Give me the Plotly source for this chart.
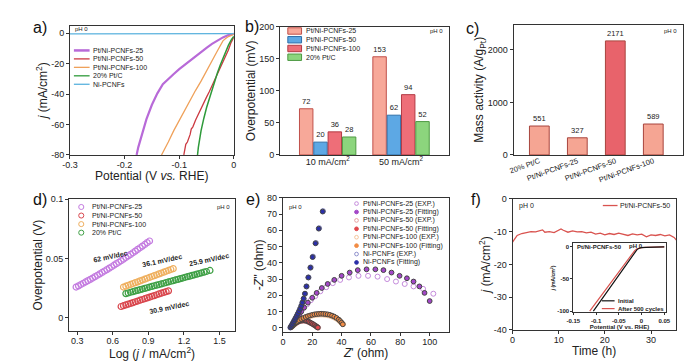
import plotly.graph_objects as go

W, H = 695, 362
def X(px): return px / W
def Y(py): return 1 - py / H

# ---------------- data ----------------
# (a) LSV curves
a_names = ["Pt/Ni-PCNFs-25", "Pt/Ni-PCNFs-50", "Pt/Ni-PCNFs-100", "20% Pt/C", "Ni-PCNFs"]
a25_v = [0, -0.01, -0.02, -0.03, -0.04, -0.05, -0.06, -0.07, -0.08, -0.09, -0.10, -0.11, -0.12, -0.13, -0.14, -0.15, -0.16, -0.17, -0.175, -0.178]
a25_j = [-0.3, -1.2, -2.7, -4.6, -7.0, -9.6, -12.3, -15.0, -17.8, -20.6, -23.6, -26.8, -30.0, -33.5, -39.5, -47.0, -56.5, -68.0, -75.0, -80.0]
a50_v = [0, -0.005, -0.01, -0.015, -0.02, -0.025, -0.03, -0.035, -0.04, -0.045, -0.05, -0.055, -0.06, -0.065, -0.07, -0.075, -0.078, -0.08, -0.085, -0.088, -0.09, -0.0916]
a50_j = [-2.5, -6.0, -11.0, -15.0, -19.5, -23.5, -27.5, -31.0, -35.0, -38.5, -42.0, -45.5, -49.0, -52.5, -57.0, -61.5, -63.0, -66.5, -71.5, -73.0, -77.0, -80.0]
a100_v = [0, -0.005, -0.01, -0.015, -0.02, -0.03, -0.04, -0.05, -0.06, -0.07, -0.08, -0.09, -0.10, -0.11, -0.12, -0.1324]
a100_j = [-0.8, -1.3, -2.2, -3.5, -5.0, -11.5, -18.5, -25.0, -31.5, -37.5, -44.0, -50.5, -57.0, -64.0, -71.5, -80.0]
aptc_v = [0, -0.005, -0.01, -0.015, -0.02, -0.025, -0.03, -0.035, -0.04, -0.045, -0.05, -0.055, -0.06, -0.065, -0.0665]
aptc_j = [-2.0, -4.5, -8.0, -12.0, -16.5, -21.0, -26.0, -31.5, -37.0, -43.0, -49.0, -56.0, -64.0, -75.0, -80.0]
ani_v = [-0.3, -0.15, 0]
ani_j = [-0.4, -0.4, -0.3]
a_xticks = [-0.3, -0.2, -0.1, 0]
a_xtext = ["-0.3", "-0.2", "-0.1", "0"]
a_yticks = [0, -20, -40, -60, -80]
a_ytext = ["0", "-20", "-40", "-60", "-80"]

# (b) overpotential bars
b_cats = ["10 mA/cm<sup>2</sup>", "50 mA/cm<sup>2</sup>"]
b_names = ["Pt/Ni-PCNFs-25", "Pt/Ni-PCNFs-50", "Pt/Ni-PCNFs-100", "20% Pt/C"]
b_vals = [[72, 153], [20, 62], [36, 94], [28, 52]]

# (c) mass activity
c_cats = ["20% Pt/C", "Pt/Ni-PCNFs-25", "Pt/Ni-PCNFs-50", "Pt/Ni-PCNFs-100"]
c_vals = [551, 327, 2171, 589]

# (d) Tafel
d_names = ["Pt/Ni-PCNFs-25", "Pt/Ni-PCNFs-50", "Pt/Ni-PCNFs-100", "20% Pt/C"]
d25_x = [0.29, 0.31, 0.33, 0.35, 0.37, 0.39, 0.41, 0.43, 0.45, 0.47, 0.49, 0.51, 0.53, 0.55, 0.57, 0.59, 0.61, 0.63, 0.65, 0.67, 0.69, 0.71, 0.73, 0.75, 0.77, 0.79, 0.81, 0.83, 0.85, 0.87, 0.89, 0.91]
d25_y = [0.0260, 0.0270, 0.0281, 0.0292, 0.0303, 0.0314, 0.0325, 0.0336, 0.0348, 0.0359, 0.0371, 0.0383, 0.0395, 0.0407, 0.0419, 0.0431, 0.0444, 0.0457, 0.0469, 0.0482, 0.0495, 0.0509, 0.0522, 0.0535, 0.0549, 0.0563, 0.0577, 0.0591, 0.0605, 0.0619, 0.0634, 0.0648]
d50_x = [0.67, 0.69, 0.71, 0.73, 0.75, 0.77, 0.79, 0.81, 0.83, 0.85, 0.87, 0.89, 0.91, 0.93, 0.95, 0.97, 0.99, 1.01, 1.03, 1.05, 1.07]
d50_y = [0.0096, 0.0103, 0.0109, 0.0116, 0.0122, 0.0129, 0.0136, 0.0142, 0.0149, 0.0155, 0.0162, 0.0169, 0.0175, 0.0182, 0.0188, 0.0195, 0.0202, 0.0208, 0.0215, 0.0221, 0.0228]
d100_x = [0.69, 0.71, 0.73, 0.75, 0.77, 0.79, 0.81, 0.83, 0.85, 0.87, 0.89, 0.91, 0.93, 0.95, 0.97, 0.99, 1.01, 1.03, 1.05, 1.07, 1.09, 1.11]
d100_y = [0.0260, 0.0267, 0.0275, 0.0282, 0.0290, 0.0297, 0.0304, 0.0312, 0.0319, 0.0326, 0.0334, 0.0341, 0.0349, 0.0356, 0.0363, 0.0371, 0.0378, 0.0385, 0.0393, 0.0400, 0.0408, 0.0415]
dptc_x = [0.71, 0.73, 0.75, 0.77, 0.79, 0.81, 0.83, 0.85, 0.87, 0.89, 0.91, 0.93, 0.95, 0.97, 0.99, 1.01, 1.03, 1.05, 1.07, 1.09, 1.11, 1.13, 1.15, 1.17, 1.19, 1.21, 1.23, 1.25, 1.27, 1.29, 1.31, 1.33, 1.35, 1.37, 1.39, 1.42]
dptc_y = [0.0205, 0.0210, 0.0216, 0.0221, 0.0227, 0.0232, 0.0238, 0.0243, 0.0249, 0.0254, 0.0260, 0.0265, 0.0271, 0.0276, 0.0281, 0.0287, 0.0292, 0.0298, 0.0303, 0.0309, 0.0314, 0.0320, 0.0325, 0.0331, 0.0336, 0.0342, 0.0347, 0.0352, 0.0358, 0.0363, 0.0369, 0.0374, 0.0380, 0.0385, 0.0391, 0.0400]
d_slopes = ["62 mV/dec", "36.1 mV/dec", "25.9 mV/dec", "30.9 mV/dec"]

# (e) Nyquist
e_names = ["Pt/Ni-PCNFs-25 (EXP.)", "Pt/Ni-PCNFs-25 (Fitting)", "Pt/Ni-PCNFs-50 (EXP.)", "Pt/Ni-PCNFs-50 (Fitting)",
           "Pt/Ni-PCNFs-100 (EXP.)", "Pt/Ni-PCNFs-100 (Fitting)", "Ni-PCNFs (EXP.)", "Ni-PCNFs (Fitting)"]
e25e_x = [6, 7, 8, 9, 10.5, 12, 14, 16.5, 19, 22, 25.5, 29.5, 34, 39, 45, 51.5, 58, 64.5, 71, 77, 83, 89, 95.5, 102.5]
e25e_y = [1, 2.5, 4, 5.5, 7.5, 9.5, 12, 14.5, 17, 19.5, 22.5, 25, 27.5, 29.5, 31, 32, 32, 31.5, 30, 28.5, 27, 25.5, 24, 21]
e25f_x = [6.5, 7.5, 8.5, 9.5, 11, 12.5, 14.5, 17, 20, 23, 26.5, 30.5, 35, 40, 45.5, 51, 57, 63, 68.5, 74, 79.5, 84.5, 89, 93, 96.5, 100]
e25f_y = [1.5, 3, 4.5, 6, 8, 10, 12.5, 15.5, 18.5, 21.5, 24.5, 27, 29.5, 32, 34, 35.5, 36, 36, 35.5, 34, 32, 30.5, 28.5, 25.5, 21.5, 16.5]
e50e_x = [5.5, 6.5, 7.5, 8.5, 9.5, 10.5, 11.5, 12.5, 13.5, 14.5, 15.5, 16.5, 17.5, 18.5, 19.5, 20.5, 21.5, 22.5, 23.3, 24.0]
e50e_y = [0.4, 1.1, 1.9, 2.6, 3.2, 3.7, 4.1, 4.3, 4.4, 4.4, 4.3, 4.0, 3.7, 3.2, 2.7, 2.2, 1.6, 1.0, 0.5, 0.1]
e50f_x = [5.5, 6.5, 7.5, 8.5, 9.5, 10.5, 11.5, 12.5, 13.5, 14.5, 15.5, 16.5, 17.5, 18.5, 19.5, 20.5, 21.5, 22.5, 23.2, 23.8]
e50f_y = [0.5, 1.3, 2.1, 2.8, 3.4, 3.9, 4.3, 4.5, 4.6, 4.6, 4.5, 4.2, 3.8, 3.3, 2.8, 2.3, 1.7, 1.1, 0.6, 0.2]
e100e_x = [6, 7, 8, 9, 10, 11, 12.5, 14, 15.5, 17, 18.5, 20, 21.5, 23, 24.5, 26, 27.5, 29, 30.5, 32, 33.5, 35, 36.5, 38, 39, 40, 41]
e100e_y = [0.7, 1.6, 2.5, 3.3, 4.0, 4.6, 5.3, 5.9, 6.4, 6.9, 7.3, 7.6, 7.9, 8.1, 8.2, 8.2, 8.2, 8.0, 7.8, 7.5, 7.0, 6.4, 5.7, 4.8, 3.9, 3.0, 2.3]
e100f_x = [6, 7, 8, 9, 10, 11, 12.5, 14, 15.5, 17, 18.5, 20, 21.5, 23, 24.5, 26, 27.5, 29, 30.5, 32, 33.5, 35, 36.5, 38, 39, 40, 40.8]
e100f_y = [0.8, 1.8, 2.7, 3.5, 4.2, 4.8, 5.5, 6.1, 6.7, 7.2, 7.6, 8.0, 8.3, 8.5, 8.6, 8.7, 8.6, 8.5, 8.3, 8.0, 7.5, 6.9, 6.1, 5.1, 4.2, 3.2, 2.2]
eNie_x = [5.0, 5.6, 6.2, 6.8, 7.4, 8.0, 8.7, 9.4, 10.1, 10.9, 11.7, 12.5, 13.3, 14.2, 15.1, 16.2, 17.5, 19.0, 20.5, 22.5, 24.7, 27.3]
eNie_y = [0.2, 1.1, 2.0, 3.0, 4.0, 5.0, 6.1, 7.3, 8.6, 10.1, 11.7, 13.5, 15.5, 17.8, 21.0, 25.4, 31.0, 37.2, 43.8, 52.2, 61.3, 71.8]
eNif_x = [5.2, 5.8, 6.4, 7.0, 7.6, 8.2, 8.8, 9.5, 10.2, 11.0, 11.8, 12.6, 13.3, 14.1, 15.0, 16.0, 17.3, 18.7, 20.2, 22.2, 24.4, 27.1]
eNif_y = [0.3, 1.2, 2.1, 3.1, 4.1, 5.1, 6.2, 7.4, 8.7, 10.2, 11.8, 13.6, 15.6, 18.0, 21.0, 25.5, 31.0, 37.0, 43.5, 52.0, 61.0, 71.5]

# (f) stability
f_name = "Pt/Ni-PCNFs-50"
f_t = [0, 0.5, 1, 2, 3, 4, 5, 6, 6.5, 7, 8, 9, 10, 10.5, 11, 12, 13, 14, 15, 16, 17, 18, 19, 20, 21, 22, 23, 24, 25, 26, 27, 28, 29, 30, 31, 32, 33, 34, 35, 35.5]
f_j = [-13.2, -12.0, -11.2, -10.6, -10.3, -10.0, -10.1, -9.8, -9.5, -10.2, -10.0, -10.3, -9.5, -9.2, -9.6, -10.2, -9.8, -10.1, -10.0, -10.4, -10.2, -10.8, -10.5, -11.0, -10.6, -10.9, -10.5, -10.8, -11.2, -10.7, -11.0, -10.8, -11.6, -11.0, -11.2, -10.9, -11.3, -11.0, -11.8, -12.6]
f_yticks = [0, -10, -20, -30, -40]
f_ytext = ["0", "-10", "-20", "-30", "-40"]
# (f) inset
fi_names = ["Initial", "After 500 cycles"]
fi0_v = [-0.106, -0.103, -0.1, -0.095, -0.09, -0.08, -0.07, -0.06, -0.05, -0.04, -0.03, -0.02, -0.015, -0.01, -0.005, 0, 0.01, 0.02, 0.03, 0.04, 0.05]
fi0_j = [-100, -97, -94, -88, -84, -73.5, -63, -53, -43, -33, -22.5, -12.5, -8, -4.5, -2.5, -1.5, -1.0, -0.8, -0.6, -0.5, -0.4]
fi1_v = [-0.114, -0.105, -0.095, -0.085, -0.075, -0.065, -0.055, -0.045, -0.035, -0.025, -0.02, -0.015, -0.01, -0.005, 0, 0.01, 0.02, 0.03, 0.04, 0.05]
fi1_j = [-100, -91.5, -82, -72.5, -63, -53, -43.5, -34, -24.5, -15, -10, -6, -3.2, -2, -1.4, -0.9, -0.7, -0.5, -0.4, -0.3]

# axis titles
x_titles = ["Potential (V <i>vs.</i> RHE)", "", "", "Log (<i>j</i> / mA/cm<sup>2</sup>)", "<i>Z</i>' (ohm)", "Time (h)"]
y_titles = ["<i>j</i> (mA/cm<sup>2</sup>)", "Overpotential (mV)", "Mass activity (A/g<sub>Pt</sub>)",
            "Overpotential (V)", "-<i>Z</i>'' (ohm)", "<i>j</i> (mA/cm<sup>2</sup>)"]

# ---------------- styles ----------------
FONT = "Arial, Liberation Sans, sans-serif"
TXT = "#222222"
TICK = 9
AX = dict(showline=True, mirror=True, linecolor="#333333", linewidth=1, ticks="outside", ticklen=3,
          tickwidth=1, tickcolor="#333333", tickfont=dict(size=TICK, color=TXT, family=FONT),
          showgrid=False, zeroline=False, title_font=dict(size=12, color=TXT, family=FONT))
XAX = dict(AX, ticklabelstandoff=-2)

a_cols = ["#B86AD8", "#CC3A42", "#EFA15A", "#2E9A3A", "#5AB2DE"]
b_fill = ["#F7A899", "#5DA8E4", "#EE6E78", "#8CD57D"]
b_edge = ["#C0504A", "#2F6FA8", "#B33A44", "#4E9A43"]
d_cols = ["#C47CE0", "#D9474E", "#EFB060", "#3FA046"]
e_cols = ["#C58BDC", "#A347C8", "#E8A0A0", "#E0474C", "#F5C49A", "#F28C45", "#8E90CC", "#2B2FA8"]

fig = go.Figure()

def dom(x0, x1, y0, y1):
    return [X(x0), X(x1)], [Y(y1), Y(y0)]

# (a)
for v, j, c, w, n in zip([a25_v, a50_v, a100_v, aptc_v, ani_v], [a25_j, a50_j, a100_j, aptc_j, ani_j],
                         a_cols, [2.2, 1.3, 1.3, 1.5, 1.3], a_names):
    fig.add_trace(go.Scatter(x=v, y=j, mode="lines", line=dict(color=c, width=w), name=n,
                             showlegend=False, xaxis="x", yaxis="y"))
# (b)
for i in range(4):
    fig.add_trace(go.Bar(x=b_cats, y=b_vals[i], name=b_names[i], marker=dict(color=b_fill[i], line=dict(color=b_edge[i], width=1)),
                         texttemplate="%{y}", textposition="outside", textfont=dict(size=7.5, color=TXT),
                         constraintext="none", cliponaxis=False, showlegend=False, xaxis="x2", yaxis="y2"))
# (c)
fig.add_trace(go.Bar(x=c_cats, y=c_vals, width=0.52,
                     marker=dict(color=["#F5A593", "#F5A593", "#E8636B", "#F5A593"], line=dict(color="#A8453D", width=1)),
                     texttemplate="%{y}", textposition="outside", textfont=dict(size=7.5, color=TXT),
                     constraintext="none", cliponaxis=False, showlegend=False, xaxis="x3", yaxis="y3"))
# (d)
for xs, ys, c, n in zip([d25_x, d50_x, d100_x, dptc_x], [d25_y, d50_y, d100_y, dptc_y], d_cols, d_names):
    fig.add_trace(go.Scatter(x=xs, y=ys, mode="markers", name=n,
                             marker=dict(symbol="circle-open", size=6, color=c, line=dict(width=1.2)),
                             showlegend=False, xaxis="x4", yaxis="y4"))
# (e)
e_data = [(e25e_x, e25e_y), (e25f_x, e25f_y), (e50e_x, e50e_y), (e50f_x, e50f_y),
          (e100e_x, e100e_y), (e100f_x, e100f_y), (eNie_x, eNie_y), (eNif_x, eNif_y)]
order = [6, 0, 2, 4, 1, 3, 5, 7]
for k in order:
    xs, ys = e_data[k]
    openm = (k % 2 == 0)
    fig.add_trace(go.Scatter(x=xs, y=ys, mode="markers", name=e_names[k],
                             marker=dict(symbol="circle-open" if openm else "circle", size=5 if openm else 4.8,
                                         color=e_cols[k], line=dict(width=1)),
                             showlegend=False, xaxis="x5", yaxis="y5"))
# (f)
fig.add_trace(go.Scatter(x=f_t, y=f_j, mode="lines", line=dict(color="#D9534F", width=1.3), name=f_name,
                         showlegend=False, xaxis="x6", yaxis="y6"))
fig.add_trace(go.Scatter(x=fi1_v, y=fi1_j, mode="lines", line=dict(color="#D9534F", width=1.2), name=fi_names[1],
                         showlegend=False, xaxis="x7", yaxis="y7"))
fig.add_trace(go.Scatter(x=fi0_v, y=fi0_j, mode="lines", line=dict(color="#111111", width=1.2), name=fi_names[0],
                         showlegend=False, xaxis="x7", yaxis="y7"))

# ---------------- axes ----------------
boxes = [(55, 222, 13, 146), (269, 441, 14, 146), (507, 680, 12, 146),
         (54, 223, 191.5, 327), (272, 441, 190, 328), (506, 673, 191, 326)]
ax_a, ax_b, ax_c, ax_d, ax_e, ax_f = [dom(*b) for b in boxes]
ax_i = dom(568, 662, 237, 308)

lay = dict(width=W, height=H, margin=dict(l=0, r=0, t=0, b=0), paper_bgcolor="white", plot_bgcolor="white",
           font=dict(family=FONT, color=TXT), showlegend=False, barmode="group", bargap=0.22, bargroupgap=0.06)

lay["xaxis"] = dict(XAX, domain=ax_a[0], anchor="y", range=[-0.3, 0], tickvals=a_xticks, ticktext=a_xtext)
lay["yaxis"] = dict(AX, domain=ax_a[1], anchor="x", range=[-80, 5], tickvals=a_yticks, ticktext=a_ytext,
                    title=dict(text=y_titles[0], standoff=0))
lay["xaxis2"] = dict(XAX, domain=ax_b[0], anchor="y2", range=[-0.65, 1.65], ticks="")
lay["yaxis2"] = dict(AX, domain=ax_b[1], anchor="x2", range=[0, 200], tickvals=[0, 50, 100, 150, 200],
                     title=dict(text=y_titles[1], standoff=0))
lay["xaxis3"] = dict(XAX, domain=ax_c[0], anchor="y3", range=[-0.68, 3.79], tickangle=-20, ticks="",
                     tickfont=dict(size=7.5, color=TXT, family=FONT))
lay["yaxis3"] = dict(AX, domain=ax_c[1], anchor="x3", range=[0, 2480], tickvals=[0, 1000, 2000],
                     title=dict(text=y_titles[2], standoff=0))
lay["xaxis4"] = dict(XAX, domain=ax_d[0], anchor="y4", range=[0.23, 1.63], tickvals=[0.3, 0.6, 0.9, 1.2, 1.5],
                     ticktext=["0.3", "0.6", "0.9", "1.2", "1.5"])
lay["yaxis4"] = dict(AX, domain=ax_d[1], anchor="x4", range=[-0.011, 0.1], tickvals=[0, 0.05, 0.1],
                     ticktext=["0", "0.05", "0.1"], title=dict(text=y_titles[3], standoff=0))
lay["xaxis5"] = dict(XAX, domain=ax_e[0], anchor="y5", range=[0, 113], tickvals=[0, 20, 40, 60, 80, 100])
lay["yaxis5"] = dict(AX, domain=ax_e[1], anchor="x5", range=[-2.5, 80], tickvals=list(range(0, 81, 10)),
                     title=dict(text=y_titles[4], standoff=0))
lay["xaxis6"] = dict(XAX, domain=ax_f[0], anchor="y6", range=[0, 35.5], tickvals=[0, 10, 20, 30])
lay["yaxis6"] = dict(AX, domain=ax_f[1], anchor="x6", range=[-40, 0], tickvals=f_yticks, ticktext=f_ytext,
                     title=dict(text=y_titles[5], standoff=0))
lay["xaxis7"] = dict(AX, domain=ax_i[0], anchor="y7", range=[-0.15, 0.053], ticklen=2,
                     tickvals=[-0.15, -0.1, -0.05, 0, 0.05],
                     ticktext=["<b>-0.15</b>", "<b>-0.1</b>", "<b>-0.05</b>", "<b>0</b>", "<b>0.05</b>"],
                     tickfont=dict(size=6, color=TXT, family=FONT),
                     title=dict(text="<b>Potential (V vs. RHE)</b>", standoff=1, font=dict(size=6, color=TXT, family=FONT)))
lay["yaxis7"] = dict(AX, domain=ax_i[1], anchor="x7", range=[-102, 5], ticklen=2, tickvals=[0, -50, -100],
                     ticktext=["<b>0</b>", "<b>-50</b>", "<b>-100</b>"],
                     tickfont=dict(size=6, color=TXT, family=FONT),
                     title=dict(text="<b><i>j</i> (mA/cm<sup>2</sup>)</b>", standoff=1, font=dict(size=5, color=TXT, family=FONT)))

# ---------------- legends & labels (paper coords) ----------------
shapes, annos = [], []

def txt(x, y, s, size=7, xanchor="left", color=TXT, angle=0, yanchor="middle"):
    annos.append(dict(x=X(x), y=Y(y), xref="paper", yref="paper", text=s, showarrow=False, xanchor=xanchor,
                      yanchor=yanchor, textangle=angle, borderpad=0, font=dict(size=size, color=color, family=FONT)))

def hline(x0, x1, y, color, width):
    shapes.append(dict(type="line", xref="paper", yref="paper", x0=X(x0), x1=X(x1), y0=Y(y), y1=Y(y),
                       line=dict(color=color, width=width)))

def rect(x0, x1, y0, y1, fill, edge):
    shapes.append(dict(type="rect", xref="paper", yref="paper", x0=X(x0), x1=X(x1), y0=Y(y1), y1=Y(y0),
                       fillcolor=fill, line=dict(color=edge, width=1)))

def circ(cx, cy, r, color, filled):
    shapes.append(dict(type="circle", xref="paper", yref="paper", x0=X(cx - r), x1=X(cx + r), y0=Y(cy + r), y1=Y(cy - r),
                       fillcolor=color if filled else "rgba(0,0,0,0)", line=dict(color=color, width=1)))

# x-axis titles placed under the tick labels
for (x0, x1, y0, y1), t in zip(boxes, x_titles):
    if t:
        txt((x0 + x1) / 2, y1 + 13, t, size=12, xanchor="center", yanchor="top")

# panel letters
for lab, x, y in [("a)", 24, 15), ("b)", 240, 14), ("c)", 465, 16), ("d)", 24, 192), ("e)", 242, 192), ("f)", 469, 192)]:
    txt(x, y, lab, size=16, xanchor="center", color="#111111")

# (a) legend
txt(59, 16, "pH 0", size=6)
for i, (n, c) in enumerate(zip(a_names, a_cols)):
    y = 38.5 + i * 8.7
    hline(59, 75, y, c, 2.5 if i == 0 else 1.3)
    txt(77, y, n, size=7)

# (b) legend
for i, n in enumerate(b_names):
    y = 18.5 + i * 9
    rect(277, 291, y - 3.3, y + 3.3, b_fill[i], b_edge[i])
    txt(294, y, n, size=7)
txt(436, 18.5, "pH 0", size=6, xanchor="right")

# (c)
txt(675, 18.5, "pH 0", size=6, xanchor="right")

# (d) legend & slope labels
for i, (n, c) in enumerate(zip(d_names, d_cols)):
    y = 199.5 + i * 8.8
    circ(66.5, y, 2.6, c, False)
    txt(76, y, n, size=7)
txt(219, 200, "pH 0", size=6, xanchor="right")
for s, x, y in zip(d_slopes, [96, 149, 197, 156], [250, 255, 254, 303]):
    txt(x, y, "<b>" + s + "</b>", size=7, xanchor="center", angle=-12)

# (e) legend
txt(277, 199, "pH 0", size=6)
for i, (n, c) in enumerate(zip(e_names, e_cols)):
    y = 196 + i * 8.65
    circ(347, y, 1.9, c, i % 2 == 1)
    txt(353, y, n, size=7)

# (f) legend, labels and inset legend
txt(512, 198, "pH 0", size=7)
hline(598, 613, 198, "#D9534F", 1.3)
txt(615, 198, f_name, size=7)
txt(571, 241, "<b>Pt/Ni-PCNFs-50</b>", size=6)
txt(640, 240, "<b>pH 0</b>", size=6, xanchor="right")
hline(597, 610, 296, "#111111", 1.2)
txt(612, 296, "<b>Initial</b>", size=6)
hline(597, 610, 304, "#D9534F", 1.2)
txt(612, 304, "<b>After 500 cycles</b>", size=6)

lay["shapes"] = shapes
lay["annotations"] = annos
fig.update_layout(**lay)
fig.write_html("out.html")
